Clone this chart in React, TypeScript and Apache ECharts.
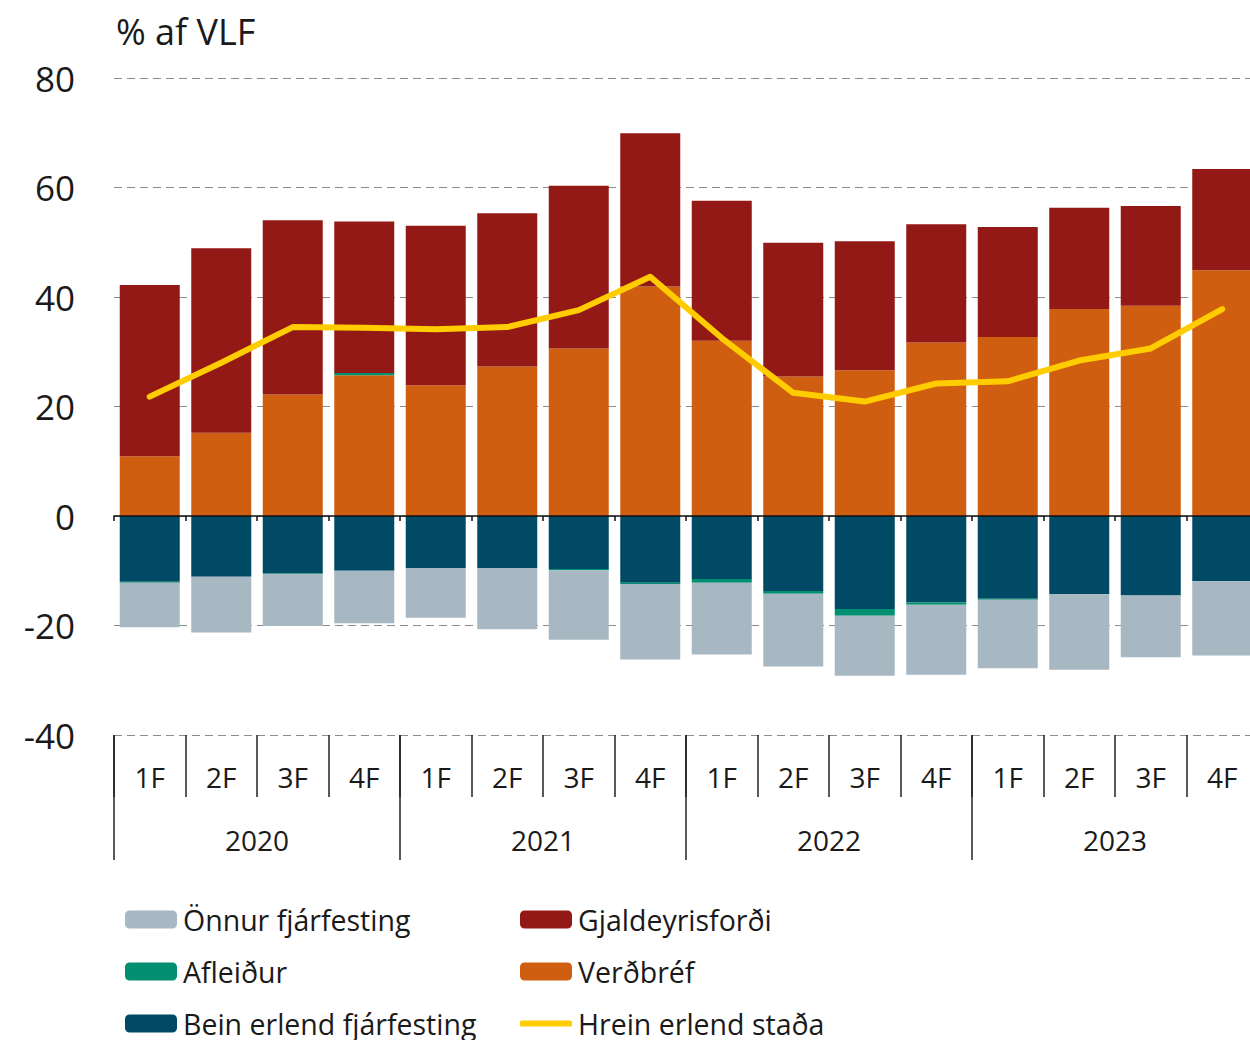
import React, { useEffect, useRef } from "react";
import * as echarts from "echarts";

const quarters = ["1F", "2F", "3F", "4F", "1F", "2F", "3F", "4F", "1F", "2F", "3F", "4F", "1F", "2F", "3F", "4F"];
const years = ["2020", "2021", "2022", "2023"];

const verdbref = [10.9, 15.2, 22.2, 25.7, 23.9, 27.3, 30.6, 41.9, 32.0, 25.5, 26.6, 31.7, 32.7, 37.8, 38.4, 44.9];
const gjaldeyrisfordi = [31.3, 33.7, 31.8, 27.7, 29.1, 28.0, 29.7, 28.0, 25.6, 24.4, 23.6, 21.6, 20.1, 18.5, 18.2, 18.5];
const afleidur = [-0.2, 0, -0.1, 0.4, 0, 0, -0.2, -0.2, -0.7, -0.5, -1.2, -0.4, -0.2, 0, 0, 0];
const bein = [-12.0, -11.1, -10.5, -10.0, -9.5, -9.5, -9.7, -12.2, -11.5, -13.7, -17.0, -15.8, -15.1, -14.3, -14.5, -11.9];
const onnur = [-8.1, -10.2, -9.5, -9.6, -9.1, -11.2, -12.7, -13.8, -13.1, -13.3, -11.0, -12.8, -12.5, -13.8, -11.3, -13.6];
const hrein = [21.8, 28.0, 34.5, 34.4, 34.1, 34.5, 37.6, 43.7, 32.5, 22.5, 20.9, 24.2, 24.6, 28.4, 30.6, 37.8];

const C = {
  onnur: "#a7b8c3",
  gjald: "#921916",
  afl: "#008f70",
  verd: "#d05e10",
  bein: "#004a65",
  hrein: "#ffcc00",
  text: "#1a1a1a",
};
const FONT = "'Open Sans', 'Noto Sans', sans-serif";

export default function App() {
  const ref = useRef<HTMLDivElement>(null);
  useEffect(() => {
    if (!ref.current) return;
    const chart = echarts.init(ref.current, undefined, { renderer: "svg" });
    const legendItem = (name: string, left: number, top: number) => ({
      left,
      top,
      itemWidth: 52,
      itemHeight: 18,
      padding: 0,
      data: [{ name }],
      selectedMode: false,
      textStyle: { fontSize: 28.5, fontFamily: FONT, color: C.text, padding: [0, 0, 0, 1] },
    });
    const barBase = {
      type: "bar",
      stack: "total",
      barWidth: 60,
      xAxisIndex: 0,
      yAxisIndex: 0,
    };
    chart.setOption({
      animation: false,
      textStyle: { fontFamily: FONT },
      grid: { left: 114, right: 8, top: 78, bottom: 305, containLabel: false },
      graphic: [
        {
          type: "text",
          left: 116,
          top: 13,
          style: { text: "% af VLF", fontSize: 36, fontFamily: FONT, fill: C.text },
        },
      ],
      legend: [
        legendItem("Önnur fjárfesting", 125, 905),
        legendItem("Afleiður", 125, 957),
        legendItem("Bein erlend fjárfesting", 125, 1009),
        legendItem("Gjaldeyrisforði", 520, 905),
        legendItem("Verðbréf", 520, 957),
        { ...legendItem("Hrein erlend staða", 520, 1009), itemHeight: 6, data: [{ name: "Hrein erlend staða", icon: "roundRect" }] },
      ],
      xAxis: [
        {
          type: "category",
          data: quarters,
          position: "bottom",
          z: 5,
          axisLine: { onZero: true, lineStyle: { color: "#111", width: 1.5 } },
          axisTick: { show: true, length: 5, interval: 0, lineStyle: { color: "#111", width: 1.5 } },
          axisLabel: { show: false },
          splitLine: { show: false },
        },
        {
          type: "category",
          data: quarters,
          position: "bottom",
          axisLine: { show: false, onZero: false },
          axisTick: { show: true, length: 62, interval: 0, lineStyle: { color: "#222", width: 1.5 } },
          axisLabel: { show: true, interval: 0, fontSize: 28, fontFamily: FONT, color: C.text, margin: 28 },
          splitLine: { show: false },
        },
        {
          type: "category",
          data: years,
          position: "bottom",
          axisLine: { show: false, onZero: false },
          axisTick: { show: true, length: 125, interval: 0, lineStyle: { color: "#222", width: 1.5 } },
          axisLabel: { show: true, interval: 0, fontSize: 28, fontFamily: FONT, color: C.text, margin: 91 },
          splitLine: { show: false },
        },
      ],
      yAxis: {
        type: "value",
        min: -40,
        max: 80,
        interval: 20,
        axisLine: { show: false },
        axisTick: { show: false },
        axisLabel: { fontSize: 35, fontFamily: FONT, color: C.text, margin: 39 },
        splitLine: { show: true, lineStyle: { color: "#8c8c8c", width: 1.2, type: [8, 5] } },
      },
      series: [
        { ...barBase, name: "Verðbréf", data: verdbref, itemStyle: { color: C.verd } },
        { ...barBase, name: "Bein erlend fjárfesting", data: bein, itemStyle: { color: C.bein } },
        { ...barBase, name: "Afleiður", data: afleidur, itemStyle: { color: C.afl } },
        { ...barBase, name: "Gjaldeyrisforði", data: gjaldeyrisfordi, itemStyle: { color: C.gjald } },
        { ...barBase, name: "Önnur fjárfesting", data: onnur, itemStyle: { color: C.onnur } },
        {
          type: "line",
          name: "Hrein erlend staða",
          data: hrein,
          z: 10,
          symbol: "none",
          showSymbol: false,
          itemStyle: { color: C.hrein },
          lineStyle: { color: C.hrein, width: 6, cap: "round", join: "round" },
        },
      ],
    });
    return () => chart.dispose();
  }, []);
  return (
    <div style={{ position: "absolute", left: 0, top: 0, width: 1250, height: 1040, overflow: "hidden", background: "#fff" }}>
      <div ref={ref} style={{ width: 1266, height: 1040 }} />
    </div>
  );
}
